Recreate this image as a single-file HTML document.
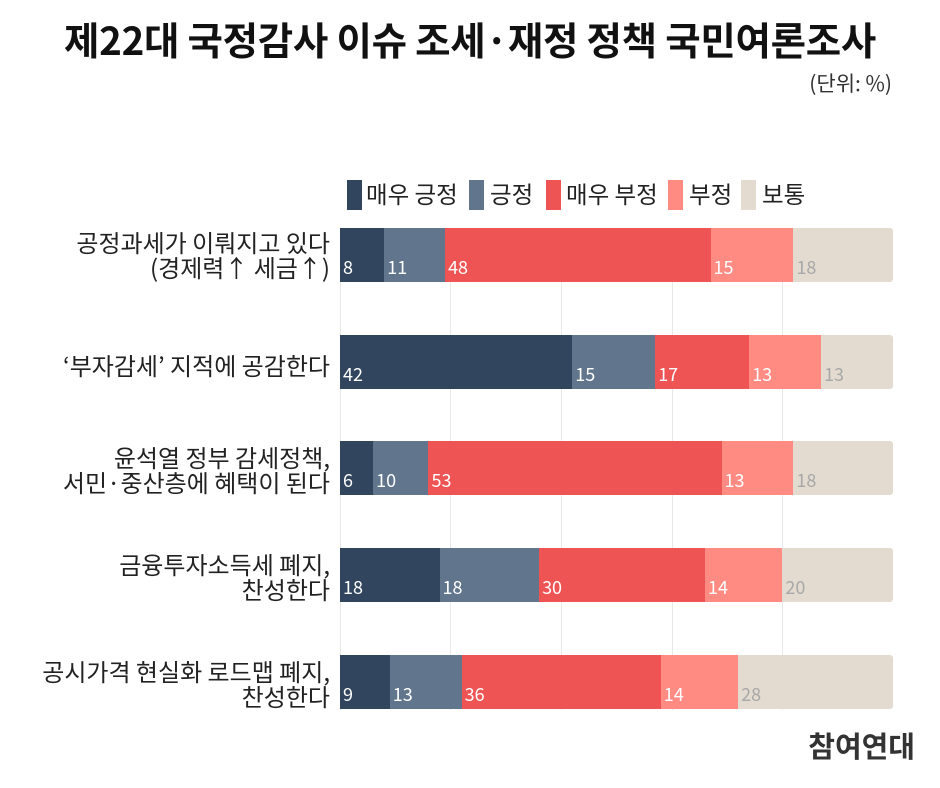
<!DOCTYPE html>
<html><head><meta charset="utf-8"><style>
body{margin:0;width:940px;height:788px;background:#fff;position:relative;overflow:hidden;font-family:"Noto Sans CJK KR","Liberation Sans",sans-serif;}
.a{position:absolute;white-space:nowrap}
.t{left:0;width:940px;text-align:center;top:13px;font-size:38.5px;font-weight:bold;color:#111;letter-spacing:-0.3px;line-height:52px}
.sq{position:absolute;top:180px;width:15px;height:30px}
.lg{position:absolute;top:176px;font-size:23.5px;line-height:34px;color:#222}
.cat{position:absolute;right:610px;text-align:right;font-size:24px;line-height:25px;color:#222}
.bar{position:absolute;left:340px;width:553px;height:54px;display:flex;border-radius:0 3px 3px 0;overflow:hidden}
.bar div{height:100%;position:relative}
.bar span{position:absolute;left:3px;bottom:2px;font-size:18px;color:#fff}
.c1{background:#31465e}.c2{background:#61758d}.c3{background:#ef5455}.c4{background:#ff8b83}.c5{background:#e3dbcf}
.c5 span{color:#a8a8a8!important}
.g{position:absolute;top:228px;height:482px;width:1px;background:#e8e8e8}
</style></head><body>
<div class="a t">제22대 국정감사 이슈 조세·재정 정책 국민여론조사</div>
<div class="a" style="right:48px;top:68px;font-size:21px;color:#333">(단위: %)</div>
<div class="sq c1" style="left:347px"></div><div class="lg" style="left:366px">매우 긍정</div>
<div class="sq c2" style="left:469px"></div><div class="lg" style="left:490px">긍정</div>
<div class="sq c3" style="left:546px"></div><div class="lg" style="left:566px">매우 부정</div>
<div class="sq c4" style="left:668px"></div><div class="lg" style="left:689px">부정</div>
<div class="sq c5" style="left:741px"></div><div class="lg" style="left:762px">보통</div>
<div class="g" style="left:340px"></div><div class="g" style="left:450px"></div><div class="g" style="left:561px"></div><div class="g" style="left:672px"></div><div class="g" style="left:782px"></div>
<div class="cat" style="top:229px">공정과세가 이뤄지고 있다<br>(경제력↑ 세금↑)</div>
<div class="bar" style="top:228px"><div class="c1" style="width:8%"><span>8</span></div><div class="c2" style="width:11%"><span>11</span></div><div class="c3" style="width:48%"><span>48</span></div><div class="c4" style="width:15%"><span>15</span></div><div class="c5" style="width:18%"><span>18</span></div></div>
<div class="cat" style="top:352px">‘부자감세’ 지적에 공감한다</div>
<div class="bar" style="top:335px"><div class="c1" style="width:42%"><span>42</span></div><div class="c2" style="width:15%"><span>15</span></div><div class="c3" style="width:17%"><span>17</span></div><div class="c4" style="width:13%"><span>13</span></div><div class="c5" style="width:13%"><span>13</span></div></div>
<div class="cat" style="top:444px">윤석열 정부 감세정책,<br>서민·중산층에 혜택이 된다</div>
<div class="bar" style="top:441px"><div class="c1" style="width:6%"><span>6</span></div><div class="c2" style="width:10%"><span>10</span></div><div class="c3" style="width:53%"><span>53</span></div><div class="c4" style="width:13%"><span>13</span></div><div class="c5" style="width:18%"><span>18</span></div></div>
<div class="cat" style="top:551px">금융투자소득세 폐지,<br>찬성한다</div>
<div class="bar" style="top:548px"><div class="c1" style="width:18%"><span>18</span></div><div class="c2" style="width:18%"><span>18</span></div><div class="c3" style="width:30%"><span>30</span></div><div class="c4" style="width:14%"><span>14</span></div><div class="c5" style="width:20%"><span>20</span></div></div>
<div class="cat" style="top:658px">공시가격 현실화 로드맵 폐지,<br>찬성한다</div>
<div class="bar" style="top:655px"><div class="c1" style="width:9%"><span>9</span></div><div class="c2" style="width:13%"><span>13</span></div><div class="c3" style="width:36%"><span>36</span></div><div class="c4" style="width:14%"><span>14</span></div><div class="c5" style="width:28%"><span>28</span></div></div>
<div class="a" style="right:25px;top:724px;font-size:29px;font-weight:bold;color:#333">참여연대</div>
</body></html>
